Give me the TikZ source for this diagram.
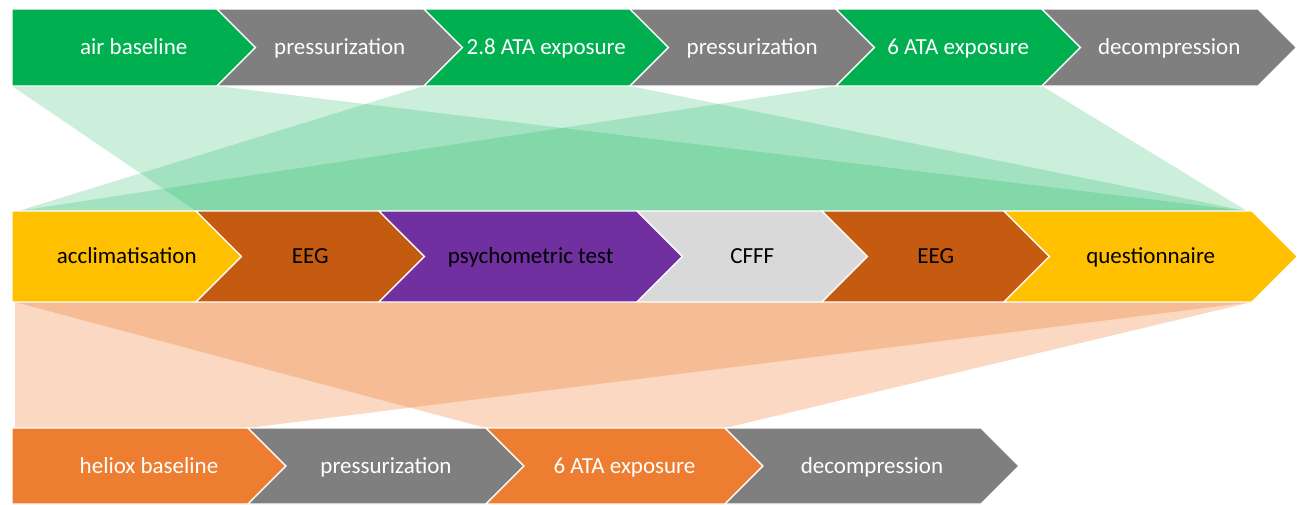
\documentclass[tikz,border=0pt]{standalone}
\usepackage{fontspec}
\setmainfont{Carlito}
\usetikzlibrary{backgrounds}

\definecolor{stepgreen}{HTML}{00B050}
\definecolor{stepgray}{HTML}{7F7F7F}
\definecolor{stepyellow}{HTML}{FFC000}
\definecolor{stepbrown}{HTML}{C55A11}
\definecolor{steppurple}{HTML}{7030A0}
\definecolor{steplight}{HTML}{D9D9D9}
\definecolor{steporange}{HTML}{ED7D31}

% name, x left, x right, y top, y bottom, fill, text colour, label, notch (0/1)
\newcommand\chevbox[9]{%
  \pgfmathsetmacro\dd{(#5-#4)/2}
  \pgfmathsetmacro\ym{(#5+#4)/2}
  \fill[#6, draw=white, line width=1.2pt] (#2,#4) coordinate (#1-tl) -- (#3,#4) coordinate (#1-tr)
    -- (#3+\dd,\ym) -- (#3,#5) coordinate (#1-br) -- (#2,#5) coordinate (#1-bl) -- (#2+#9*\dd,\ym) -- cycle;
  \node[lbl, text=#7, anchor=base] (#1) at ({(#2+#3)/2+\dd/2},\ym+7) {#8};
}

\begin{document}
\begin{tikzpicture}[x=1pt, y=-1pt,
    lbl/.style={font=\fontsize{23}{27}\selectfont, inner sep=0pt},
    fgreen/.style={fill=stepgreen, fill opacity=0.2},
    forange/.style={fill=steporange, fill opacity=0.3}]
    \useasboundingbox (0,0) rectangle (1304,504);
    % air / oxygen row
    \chevbox{air}{12}{217}{9}{86}{stepgreen}{white}{air baseline}{0}
    \chevbox{pressA}{217}{424}{9}{86}{stepgray}{white}{pressurization}{1}
    \chevbox{ata28}{424}{630}{9}{86}{stepgreen}{white}{2.8 ATA exposure}{1}
    \chevbox{pressB}{630}{836}{9}{86}{stepgray}{white}{pressurization}{1}
    \chevbox{ata6}{836}{1042}{9}{86}{stepgreen}{white}{6 ATA exposure}{1}
    \chevbox{decoA}{1042}{1258}{9}{86}{stepgray}{white}{decompression}{1}
    % test sequence
    \chevbox{acc}{12}{196}{211}{302}{stepyellow}{black}{acclimatisation}{0}
    \chevbox{eegA}{196}{379}{211}{302}{stepbrown}{black}{EEG}{1}
    \chevbox{psy}{379}{637}{211}{302}{steppurple}{black}{psychometric test}{1}
    \chevbox{cfff}{637}{822}{211}{302}{steplight}{black}{CFFF}{1}
    \chevbox{eegB}{822}{1004}{211}{302}{stepbrown}{black}{EEG}{1}
    \chevbox{quest}{1004}{1252}{211}{302}{stepyellow}{black}{questionnaire}{1}
    % heliox row
    \chevbox{helio}{12}{248}{428}{504}{steporange}{white}{heliox baseline}{0}
    \chevbox{pressC}{248}{486}{428}{504}{stepgray}{white}{pressurization}{1}
    \chevbox{hata6}{486}{725}{428}{504}{steporange}{white}{6 ATA exposure}{1}
    \chevbox{decoB}{725}{981}{428}{504}{stepgray}{white}{decompression}{1}

    \begin{scope}[on background layer]
        \fill[fgreen] (air-bl) -- (air-br) -- ([xshift=-5pt]quest-tr) -- (eegA-tl) -- cycle;
        \fill[fgreen] (ata28-bl) -- (ata28-br) -- ([xshift=-5pt]quest-tr) -- ([xshift=6pt]acc-tl) -- cycle;
        \fill[fgreen] (ata6-bl) -- (ata6-br) -- ([xshift=-5pt]quest-tr) -- ([xshift=6pt]acc-tl) -- cycle;
        \fill[forange] ([xshift=3pt]helio-tl) -- (helio-tr) -- (quest-br) -- ([xshift=3pt]acc-bl) -- cycle;
        \fill[forange] (hata6-tl) -- (hata6-tr) -- (quest-br) -- ([xshift=3pt]acc-bl) -- cycle;
    \end{scope}
\end{tikzpicture}
\end{document}
